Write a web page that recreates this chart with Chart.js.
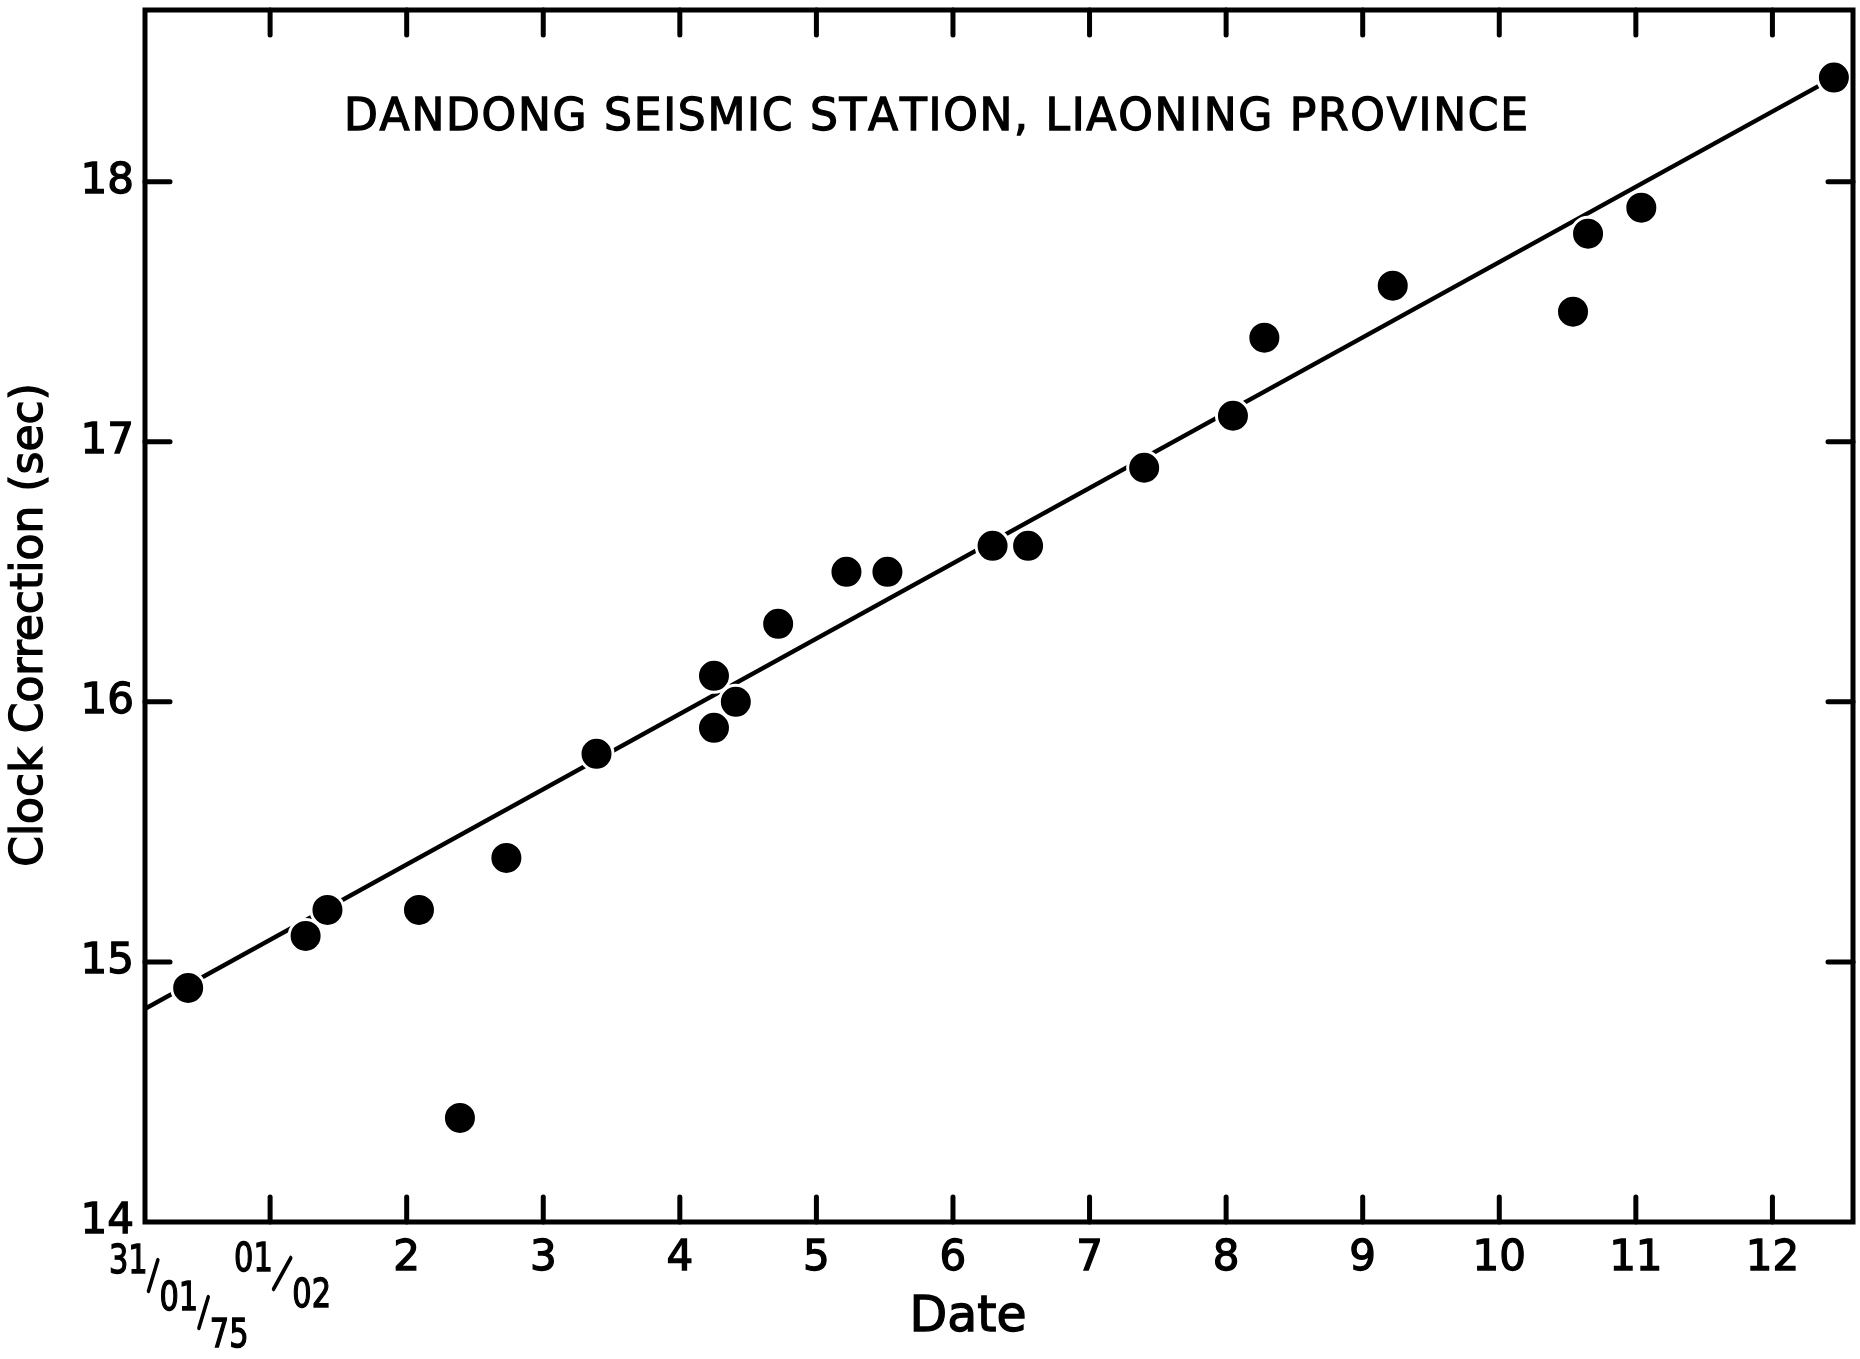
<!DOCTYPE html>
<html>
<head>
<meta charset="utf-8">
<script src="https://cdn.jsdelivr.net/npm/chart.js@4.4.1/dist/chart.umd.min.js"></script>
<style>
  body { margin: 0; background: #fff; }
  canvas { display: block; }
</style>
</head>
<body>
<canvas id="clock" width="1860" height="1359"></canvas>
<script>
const clockCanvas = document.getElementById("clock")

const FONT = '"DejaVu Sans", sans-serif'
const titleText = "DANDONG SEISMIC STATION, LIAONING PROVINCE"
const xTitle = "Date"
const yTitle = "Clock Correction (sec)"
const originLabel = "31/01/75"

// observation date (months, 1 = 01/02) and clock correction (sec)
const obsMonth = [0.40, 1.26, 1.42, 2.09, 2.39, 2.73, 3.39, 4.25, 4.25, 4.41, 4.72, 5.22,
                  5.52, 6.29, 6.55, 7.40, 8.05, 8.28, 9.22, 10.54, 10.65, 11.04, 12.45]
const obsCorr = [14.9, 15.1, 15.2, 15.2, 14.4, 15.4, 15.8, 16.1, 15.9, 16.0, 16.3, 16.5,
                 16.5, 16.6, 16.6, 16.9, 17.1, 17.4, 17.6, 17.5, 17.8, 17.9, 18.4]

// fitted drift line end points
const fitMonth = [0.084, 12.45]
const fitCorr = [14.82, 18.40]

const xTickValues = [1, 2, 3, 4, 5, 6, 7, 8, 9, 10, 11, 12]
const xTickLabels = ["01/02", "2", "3", "4", "5", "6", "7", "8", "9", "10", "11", "12"]
const yTickValues = [14, 15, 16, 17, 18]
const yTickLabels = ["14", "15", "16", "17", "18"]

function inkText(ctx, s, x, y) {
    ctx.fillText(s, x, y)
    ctx.strokeText(s, x, y)
}

// labels like 31/01/75 are lettered as a descending staircase
function drawStepped(ctx, text, left, top, stepY, gap) {
    const parts = text.split("/")
    const sx = 0.78
    ctx.save()
    ctx.translate(left, top)
    ctx.scale(sx, 1)
    ctx.font = "39px " + FONT
    ctx.textBaseline = "alphabetic"
    ctx.textAlign = "left"
    ctx.lineWidth = 1.4
    const cap = 29
    let cx = 0
    let cy = 0
    parts.forEach((p, i) => {
        inkText(ctx, p, cx, cy + cap)
        const w = ctx.measureText(p).width
        if (i < parts.length - 1) {
            ctx.lineWidth = 4.5
            ctx.lineCap = "round"
            ctx.beginPath()
            ctx.moveTo(cx + w + gap - 2, cy + 16)
            ctx.lineTo(cx + w + 1, cy + 47)
            ctx.stroke()
            ctx.lineWidth = 1.4
        }
        cx += w + gap
        cy += stepY
    })
    ctx.restore()
}

const framePlugin = {
    id: "frame",
    afterDraw(chart) {
        const {ctx, chartArea: a, scales: {x, y}} = chart
        ctx.save()
        ctx.strokeStyle = "#000"
        ctx.fillStyle = "#000"
        ctx.lineWidth = 5
        ctx.lineCap = "round"
        ctx.strokeRect(a.left, a.top, a.right - a.left, a.bottom - a.top)

        // inward ticks on all four sides
        const len = 25
        ctx.beginPath()
        x.ticks.forEach(t => {
            const px = x.getPixelForValue(t.value)
            ctx.moveTo(px, a.bottom)
            ctx.lineTo(px, a.bottom - len)
            ctx.moveTo(px, a.top)
            ctx.lineTo(px, a.top + len)
        })
        y.ticks.forEach(t => {
            if (t.value <= y.min) return
            const py = y.getPixelForValue(t.value)
            ctx.moveTo(a.left, py)
            ctx.lineTo(a.left + len, py)
            ctx.moveTo(a.right, py)
            ctx.lineTo(a.right - len, py)
        })
        ctx.stroke()

        // stepped date labels
        drawStepped(ctx, originLabel, a.left - 36, a.bottom + 22, 37, 15)
        x.ticks.forEach((t, i) => {
            if (xTickLabels[i].includes("/")) {
                drawStepped(ctx, xTickLabels[i], x.getPixelForValue(t.value) - 36, a.bottom + 20, 36, 25)
            }
        })

        ctx.lineWidth = 1.3
        ctx.lineCap = "butt"

        // spaced-out station title
        ctx.font = "44px " + FONT
        ctx.textBaseline = "alphabetic"
        ctx.textAlign = "left"
        const chars = [...titleText]
        const widths = chars.map(c => ctx.measureText(c).width)
        const total = widths.reduce((s, w) => s + w, 0)
        const spacing = (1184 - total) / (chars.length - 1)
        let tx = 344
        chars.forEach((c, i) => {
            inkText(ctx, c, tx, 130)
            tx += widths[i] + spacing
        })

        // axis titles
        ctx.textAlign = "center"
        ctx.textBaseline = "middle"
        ctx.font = "49px " + FONT
        inkText(ctx, xTitle, (a.left + a.right) / 2 - 31, 1318)

        ctx.save()
        ctx.translate(31, (a.top + a.bottom) / 2 + 9)
        ctx.rotate(-Math.PI / 2)
        ctx.font = "44px " + FONT
        inkText(ctx, yTitle, 0, 0)
        ctx.restore()

        ctx.restore()
    }
}

new Chart(clockCanvas, {
    type: "scatter",
    data: {
        datasets: [{
            data: obsMonth.map((m, i) => ({x: m, y: obsCorr[i]})),
            pointRadius: 16.5,
            pointHoverRadius: 16.5,
            backgroundColor: "#000",
            borderColor: "#fff",
            borderWidth: 3,
            order: 0
        },
        {
            type: "line",
            data: fitMonth.map((m, i) => ({x: m, y: fitCorr[i]})),
            borderColor: "#000",
            borderWidth: 4.5,
            pointRadius: 0,
            showLine: true,
            fill: false,
            order: 1
        }]
    },
    options: {
        responsive: false,
        animation: false,
        devicePixelRatio: 1,
        layout: {autoPadding: false, padding: {top: 10, right: 7, left: 0, bottom: 0}},
        scales: {
            x: {
                type: "linear",
                min: 0.084,
                max: 12.59,
                afterFit: s => {
                    s.height = 137
                    s.paddingLeft = 0
                    s.paddingRight = 0
                },
                afterBuildTicks: s => { s.ticks = xTickValues.map(v => ({value: v})) },
                grid: {display: false, drawTicks: false},
                border: {display: false},
                ticks: {
                    autoSkip: false,
                    maxRotation: 0,
                    padding: 12,
                    color: "#000",
                    textStrokeColor: "#000",
                    textStrokeWidth: 1.3,
                    font: {family: FONT, size: 42},
                    callback: (v, i) => xTickLabels[i].includes("/") ? "" : xTickLabels[i]
                }
            },
            y: {
                min: 14,
                max: 18.66,
                afterFit: s => {
                    s.width = 145
                    s.paddingTop = 0
                    s.paddingBottom = 0
                },
                afterBuildTicks: s => { s.ticks = yTickValues.map(v => ({value: v})) },
                grid: {display: false, drawTicks: false},
                border: {display: false},
                ticks: {
                    padding: 11,
                    color: "#000",
                    textStrokeColor: "#000",
                    textStrokeWidth: 1.3,
                    font: {family: FONT, size: 42},
                    callback: (v, i) => yTickLabels[i]
                }
            }
        },
        plugins: {
            legend: {display: false},
            tooltip: {enabled: false}
        }
    },
    plugins: [framePlugin]
})
</script>
</body>
</html>
